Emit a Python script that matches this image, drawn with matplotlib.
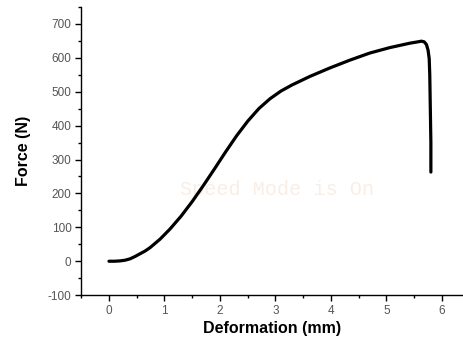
import matplotlib
matplotlib.use("Agg")
import matplotlib.pyplot as plt
from matplotlib.ticker import MultipleLocator

# deformation (mm) / force (N)
deformation = [0.0, 0.1, 0.2, 0.29, 0.38, 0.47, 0.56, 0.65, 0.74, 0.92, 1.1,
               1.3, 1.5, 1.7, 1.9, 2.1, 2.3, 2.5, 2.7, 2.9, 3.1,
               3.3, 3.62, 3.98, 4.34, 4.7, 5.06, 5.42, 5.53, 5.63, 5.68,
               5.72, 5.75, 5.77, 5.78, 5.79, 5.80, 5.80]
force = [0, 0, 1, 3, 7, 14, 22, 30, 40, 65, 95,
         133, 176, 223, 272, 322, 370, 413, 450, 479, 502,
         520, 545, 570, 593, 614, 630, 643, 646, 649, 647,
         639, 622, 597, 550, 450, 350, 263]

plt.rcParams['font.family'] = ['Liberation Sans', 'DejaVu Sans']
plt.rcParams['axes.unicode_minus'] = False

fig = plt.figure(figsize=(4.64, 3.46), dpi=100)
ax = fig.add_axes([0.175, 0.147, 0.823, 0.833])

ax.plot(deformation, force, color='black', linewidth=2.3, solid_capstyle='round',
        solid_joinstyle='round')

ax.set_xlim(-0.5, 6.38)
ax.set_ylim(-100, 750)
ax.xaxis.set_major_locator(MultipleLocator(1))
ax.xaxis.set_minor_locator(MultipleLocator(0.5))
ax.yaxis.set_minor_locator(MultipleLocator(50))
ax.set_yticks(range(-100, 701, 100))

for s in ['top', 'right']:
    ax.spines[s].set_visible(False)
for s in ['left', 'bottom']:
    ax.spines[s].set_linewidth(1.0)

ax.tick_params(which='major', direction='out', length=4, width=1.0,
               labelsize=8.5, labelcolor='#555555', pad=3)
ax.tick_params(which='minor', direction='out', length=2.5, width=1.0)

ax.set_xlabel('Deformation (mm)', fontsize=11.5, fontweight='bold', labelpad=3)
ax.set_ylabel('Force (N)', fontsize=11.5, fontweight='bold', labelpad=12)

# faint watermark
ax.text(3.03, 212, 'Speed Mode is On', fontsize=14.5, color='#f8eee6',
        family='Liberation Mono', ha='center', va='center', zorder=0)

fig.savefig('out.png', dpi=100)
